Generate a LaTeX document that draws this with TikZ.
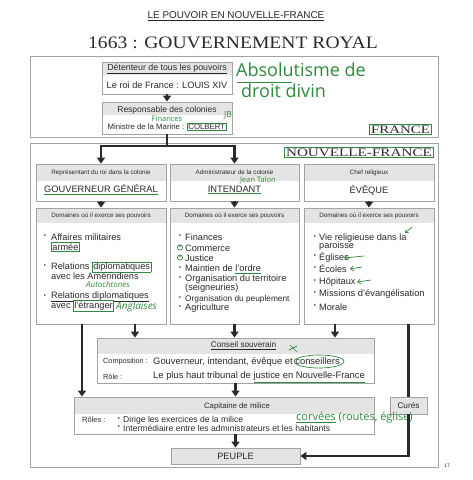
\documentclass[tikz,border=0pt]{standalone}
\usepackage{fontspec}
\setmainfont{Liberation Sans}
\newfontfamily\serifc{Liberation Serif}
\newfontfamily\handf{Open Sans}
\usetikzlibrary{arrows.meta,fit}
\definecolor{hdr}{HTML}{E4E4E4}
\definecolor{bord}{HTML}{A3A3A3}
\definecolor{ink}{HTML}{2A2A2A}
\definecolor{hand}{HTML}{2F8A3F}
\newcommand\mkbox[6]{%
  \fill[hdr] (#2,#3) rectangle (#4,#6);
  \node[boxst, fit={(#2,#3)(#4,#5)}] (#1) {};}
\newcommand\gb[1]{{\fboxsep=0.6pt\fboxrule=0.6pt\fcolorbox{hand}{white}{#1}}}
\newcommand\gu[1]{{\color{hand}\underline{\textcolor{ink}{#1}}}}
\newcommand\fs[1]{\fontsize{#1}{#1}\selectfont}
\tikzset{
  boxst/.style={draw=bord, line width=0.8pt, inner sep=0pt},
  framest/.style={draw=bord, line width=0.8pt, inner sep=0pt},
  arr/.style={draw=ink, line width=2.3pt, -{Triangle[width=8pt,length=6pt]}},
  lin/.style={draw=ink, line width=2.3pt},
  ht/.style={font=\fs{6.3}, text=ink, inner sep=0pt},
  bt/.style={font=\fs{8}, text=ink, inner sep=0pt},
  nt/.style={font=\fs{9.3}, text=ink, inner sep=0pt},
  it/.style={font=\fs{9.2}, text=ink, inner sep=0pt, anchor=west},
  bul/.style={font=\fs{6}, text=ink, inner sep=0pt},
  hw/.style={font=\handf, text=hand, inner sep=0pt},
  gl/.style={draw=hand, line width=0.7pt},
}
\begin{document}
\begin{tikzpicture}[x=1pt,y=-1pt]
\useasboundingbox (0,0) rectangle (473,480);
\fill[white] (0,0) rectangle (473,480);
% titles
\node[font=\fs{9.9}, text=ink, inner sep=0pt] (t0) at (236,16) {\underline{LE POUVOIR EN NOUVELLE-FRANCE}};
\node[font=\serifc\fs{17.5}, text=ink, inner sep=0pt] (t1) at (233,43) {\scalebox{1.12}[1]{1663 : GOUVERNEMENT ROYAL}};
% frames
\node[framest, fit={(30,56)(438,137)}] (fr) {};
\node[framest, fit={(30,143)(438,467)}] (nf) {};
% boxes
\mkbox{det}{102}{62}{232}{94}{75}
\mkbox{resp}{102}{102}{232}{134}{115}
\mkbox{gov}{36}{164}{166}{201}{181}
\mkbox{int}{170}{164}{299}{201}{181}
\mkbox{eve}{304}{164}{434}{201}{181}
\mkbox{domG}{36}{208}{166}{324}{223}
\mkbox{domI}{170}{208}{299}{324}{223}
\mkbox{domE}{304}{208}{434}{324}{223}
\mkbox{cons}{97}{338}{374}{383}{354}
\mkbox{cap}{74}{397}{374}{434}{414}
\mkbox{cur}{390}{397}{427}{414}{414}
\mkbox{peu}{171}{448}{300}{464}{464}
% labels FRANCE / NOUVELLE-FRANCE
\node[draw=hand, line width=0.8pt, inner xsep=1.5pt, inner ysep=1pt, font=\serifc\fs{11.5}, text=ink] (lf) at (400.5,129.5) {\scalebox{1.3}[1]{FRANCE}};
\node[draw=hand, line width=0.8pt, inner xsep=1.5pt, inner ysep=1pt, font=\serifc\fs{11.5}, text=ink] (lnf) at (359,152.5) {\scalebox{1.32}[1]{NOUVELLE-FRANCE}};
% top boxes text
\node[ht, font=\fs{8.8}] (d1) at (167,69) {\underline{Détenteur de tous les pouvoirs}};
\node[bt, font=\fs{9.2}] (d2) at (167,85) {Le roi de France : LOUIS XIV};
\node[ht, font=\fs{8.5}] (r1) at (167,110) {Responsable des colonies};
\node[bt, font=\fs{7.8}] (r2) at (167,127) {Ministre de la Marine : \gb{COLBERT}};
\node[hw, font=\handf\fs{7.5}] (h1) at (167,119) {Finances};
\node[hw, font=\handf\fs{8.5}] (h2) at (228,115) {JB};
\node[hw, font=\handf\fs{18}, anchor=west] (h3) at (236,70) {Absolutisme de};
\node[hw, font=\handf\fs{18}, anchor=west] (h4) at (241,91) {droit divin};
\draw[gl] (237,82) -- (292,82);
% three boxes
\node[ht] (g1) at (101,173) {Représentant du roi dans la colonie};
\node[nt] (g2) at (101,190) {\gu{GOUVERNEUR GÉNÉRAL}};
\node[ht] (i1) at (234.5,172.5) {Administrateur de la colonie};
\node[nt] (i2) at (234.5,190) {\gu{INTENDANT}};
\node[hw, font=\handf\fs{7.5}] (h5) at (258,180) {Jean Talon};
\node[ht] (e1) at (369,173) {Chef religieux};
\node[nt] (e2) at (369,190) {ÉVÊQUE};
% domaines headers
\node[ht] (dg) at (101,216) {Domaines où il exerce ses pouvoirs};
\node[ht] (di) at (234.5,216) {Domaines où il exerce ses pouvoirs};
\node[ht] (de) at (369,216) {Domaines où il exerce ses pouvoirs};
% gouverneur items
\node[bul] (bg1) at (45,236) {•};
\node[it] (g11) at (51,237) {Affaires militaires};
\node[it] (g12) at (51,247) {\gb{armée}};
\node[bul] (bg2) at (45,266) {•};
\node[it] (g21) at (51,267) {Relations \gb{diplomatiques}};
\node[it] (g22) at (51,276) {avec les Amérindiens};
\node[hw, font=\handf\itshape\fs{8}] (h6) at (108,284) {Autochtones};
\node[bul] (bg3) at (45,296) {•};
\node[it] (g31) at (51,297) {\underline{Relations diplomatiques}};
\node[it] (g32) at (51,306) {avec \gb{l'étranger}};
\node[hw, font=\handf\itshape\fs{10}, anchor=west] (h7) at (116,307) {Anglaises};
% intendant items
\node[bul] (bi1) at (180,236) {•};
\node[it] (i11) at (185,237) {Finances};
\node[bul] (bi2) at (180,247) {•};
\node[it] (i12) at (185,248) {Commerce};
\draw[gl] (180,247.5) circle (2.6pt);
\node[bul] (bi3) at (180,257) {•};
\node[it] (i13) at (185,258) {Justice};
\draw[gl] (180,257.5) circle (2.6pt);
\node[bul] (bi4) at (180,268) {•};
\node[it] (i14) at (185,269) {Maintien de \gu{l'ordre}};
\node[bul] (bi5) at (180,278) {•};
\node[it] (i15) at (185,279) {Organisation du territoire};
\node[it] (i16) at (185,288) {(seigneuries)};
\node[bul] (bi6) at (180,298) {•};
\node[it, font=\fs{8.3}] (i17) at (185,299) {Organisation du peuplement};
\node[bul] (bi7) at (180,307) {•};
\node[it] (i18) at (185,308) {Agriculture};
% eveque items
\node[bul] (be1) at (315,237) {•};
\node[it] (e11) at (319,238) {Vie religieuse dans la};
\node[it] (e12) at (319,246) {paroisse};
\node[bul] (be2) at (315,256) {•};
\node[it] (e13) at (319,257) {Églises};
\node[bul] (be3) at (315,268) {•};
\node[it] (e14) at (319,269) {Écoles};
\node[bul] (be4) at (315,281) {•};
\node[it] (e15) at (319,282) {Hôpitaux};
\node[bul] (be5) at (315,293) {•};
\node[it, font=\fs{9.3}] (e16) at (319,294) {Missions d'évangélisation};
\node[bul] (be6) at (315,306) {•};
\node[it] (e17) at (319,307) {Morale};
\draw[gl, -{Straight Barb[length=2.5pt,width=4pt]}] (412,227) -- (405,233);
\draw[gl, -{Straight Barb[length=3pt,width=5pt]}] (364,256) -- (344,258);
\draw[gl, -{Straight Barb[length=3pt,width=5pt]}] (362,267) -- (350,269);
\draw[gl, -{Straight Barb[length=3pt,width=5pt]}] (371,280) -- (357,282);
% conseil
\node[ht, font=\fs{8.2}] (c0) at (243.5,346) {\underline{Conseil souverain}};
\node[ht, anchor=west, font=\fs{7.3}] (c1) at (103,362) {Composition :};
\node[it, font=\fs{9.4}] (c2) at (153,362) {Gouverneur, intendant, évêque et conseillers};
\node[ht, anchor=west, font=\fs{7.3}] (c3) at (103,377) {Rôle :};
\node[it, font=\fs{9.4}] (c4) at (153,377) {Le plus haut tribunal de \gu{justice en Nouvelle-France}};
\draw[gl] (319,361.5) ellipse (25pt and 6.5pt);
\draw[gl] (290,345) -- (297,352) (289,350) -- (297,346);
% capitaine
\node[ht, font=\fs{7.8}] (k0) at (237,406) {Capitaine de milice};
\node[ht, anchor=west, font=\fs{7.5}] (k1) at (82,420) {Rôles :};
\node[bul] (bk1) at (119,419) {•};
\node[it, font=\fs{8.6}] (k2) at (123,420) {Dirige les exercices de la milice};
\node[bul] (bk2) at (119,427) {•};
\node[it, font=\fs{8.6}] (k3) at (123,428) {Intermédiaire entre les administrateurs et les habitants};
\node[hw, font=\handf\fs{11}, anchor=west] (h8) at (296,418) {\underline{corvées} (routes, église)};
\node[ht, font=\fs{8.2}] (cu) at (408.5,406) {Curés};
\node[bt, font=\fs{9.2}] (pp) at (235.5,456) {PEUPLE};
\node[font=\fs{5}, text=ink, inner sep=0pt] (pg) at (447,466) {17};
% connectors
\coordinate (j1) at (167,146);
\draw[arr] (det.south) -- (resp.north);
\draw[lin] (resp.south) -- (j1);
\draw[arr] (j1) -| (gov.north);
\draw[arr] (j1) -| (int.north);
\draw[arr] (gov.south) -- (domG.north);
\draw[arr] (int.south) -- (domI.north);
\draw[arr] (eve.south) -- (domE.north);
\draw[arr] ([xshift=34pt]domG.south) -- ([xshift=34pt]domG.south |- cons.north);
\draw[arr] (domI.south) -- (domI.south |- cons.north);
\draw[arr] ([xshift=-34pt]domE.south) -- ([xshift=-34pt]domE.south |- cons.north);
\draw[arr] ([xshift=-19pt]domG.south) -- ([xshift=-19pt]domG.south |- cap.north);
\draw[lin] (cur.north |- domE.south) -- (cur.north);
\draw[arr] (cur.south) |- (peu.east);
\draw[arr] (cons.south) -- (cons.south |- cap.north);
\draw[arr] (cap.south -| peu.north) -- (peu.north);
\end{tikzpicture}
\end{document}
